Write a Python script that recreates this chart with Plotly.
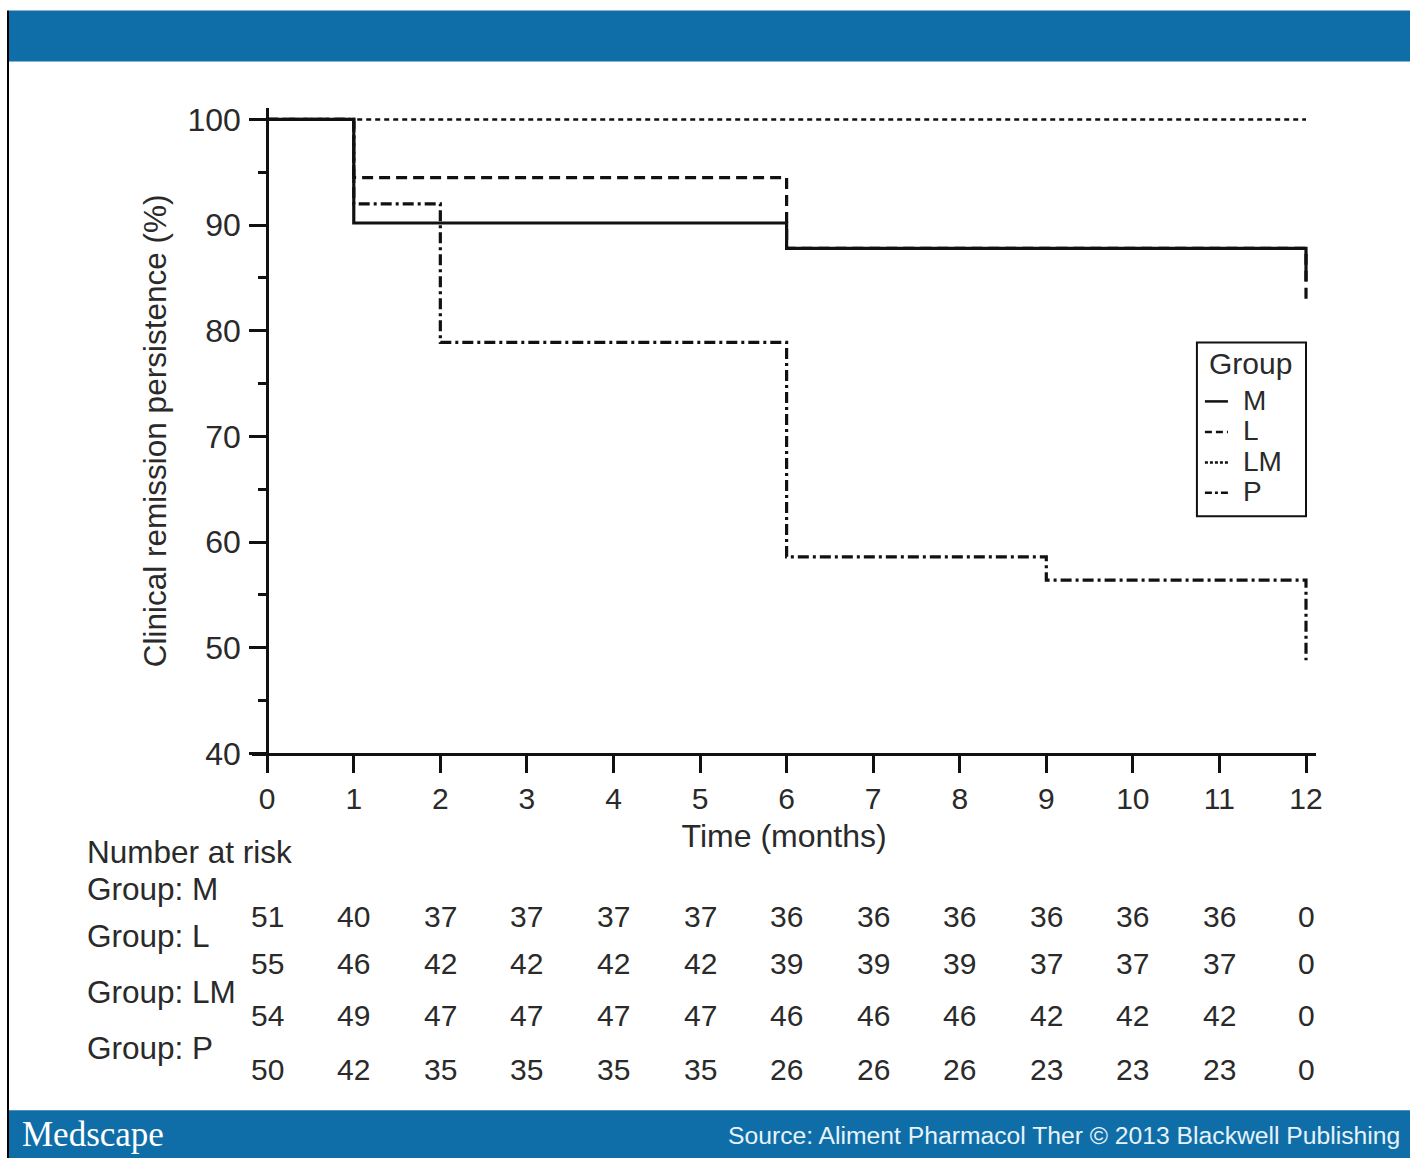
import plotly.graph_objects as go

# Target picture is 1410x1158. The capture shrinks the page slightly
# (x * 0.9943, y * 0.979 + 6.5), so the figure is laid out in target-pixel
# terms and converted.
SX, SY, BY = 0.9943, 0.979, 6.5
W = 1418
H = 1176

# ---------------- data ----------------
groups = ["M", "L", "LM", "P"]
M_time = [0, 1, 6, 12]
M_surv = [100, 90.2, 87.8, 84.7]
L_time = [0, 1, 6, 12]
L_surv = [100, 94.5, 87.8, 83.0]
LM_time = [0, 12]
LM_surv = [100, 100]
P_time = [0, 1, 2, 6, 9, 12]
P_surv = [100, 92.0, 78.9, 58.6, 56.4, 48.8]

months = list(range(0, 13))
y_ticks = [40, 50, 60, 70, 80, 90, 100]

risk_M = [51, 40, 37, 37, 37, 37, 36, 36, 36, 36, 36, 36, 0]
risk_L = [55, 46, 42, 42, 42, 42, 39, 39, 39, 37, 37, 37, 0]
risk_LM = [54, 49, 47, 47, 47, 47, 46, 46, 46, 42, 42, 42, 0]
risk_P = [50, 42, 35, 35, 35, 35, 26, 26, 26, 23, 23, 23, 0]

# ---------------- styling ----------------
FONT = "Liberation Sans, Arial, sans-serif"
TXT = "#2a2a2a"
BLUE = "#0f6ea8"
LW = 3.2
dash_styles = {
    "M": "solid",
    "L": "11px,6px",
    "LM": "5px,4px",
    "P": "11px,4px,3px,4px",
}


def px(x):
    """target-picture x pixel -> paper fraction"""
    return (x / SX) / W


def py(y):
    """target-picture y pixel -> paper fraction"""
    return 1 - ((y - BY) / SY) / H


fig = go.Figure()

series = [("M", M_time, M_surv), ("L", L_time, L_surv),
          ("LM", LM_time, LM_surv), ("P", P_time, P_surv)]
order = ["LM", "P", "L", "M"]
sd = {g: (t, s) for g, t, s in series}
for g in order:
    t, s = sd[g]
    fig.add_trace(go.Scatter(
        x=t, y=s, mode="lines", name=g, showlegend=False,
        line=dict(shape="hv", color="#111111", width=LW if g != "LM" else 2.6,
                  dash=dash_styles[g]),
        hoverinfo="skip",
    ))

shapes = []
annotations = []

# header / footer bands
shapes.append(dict(type="rect", xref="paper", yref="paper",
                   x0=px(9), x1=1, y0=py(61), y1=py(10),
                   fillcolor=BLUE, line=dict(width=0), layer="below"))
shapes.append(dict(type="rect", xref="paper", yref="paper",
                   x0=px(9), x1=1, y0=0, y1=py(1110),
                   fillcolor=BLUE, line=dict(width=0), layer="below"))
shapes.append(dict(type="line", xref="paper", yref="paper",
                   x0=px(8), x1=px(8), y0=0, y1=py(10),
                   line=dict(color="#000000", width=2)))

annotations.append(dict(text="Medscape", xref="paper", yref="paper",
                        x=px(20), y=py(1134), xanchor="left", yanchor="middle",
                        showarrow=False,
                        font=dict(family="Liberation Serif, Times New Roman, serif",
                                  size=35, color="#ffffff")))
annotations.append(dict(text="Source: Aliment Pharmacol Ther © 2013 Blackwell Publishing",
                        xref="paper", yref="paper", x=px(1401), y=py(1135),
                        xanchor="right", yanchor="middle", showarrow=False,
                        font=dict(family=FONT, size=24.7, color="#e6f3fa")))

# legend (manual, to match compact layout)
shapes.append(dict(type="rect", xref="paper", yref="paper",
                   x0=px(1196), x1=px(1305), y0=py(516), y1=py(342),
                   line=dict(color="#111111", width=2), fillcolor="white"))
annotations.append(dict(text="Group", xref="paper", yref="paper",
                        x=px(1206), y=py(363), xanchor="left", yanchor="middle",
                        showarrow=False, font=dict(family=FONT, size=30, color=TXT)))
leg_y = [400, 430.5, 461, 491.5]
for g, yy in zip(groups, leg_y):
    shapes.append(dict(type="line", xref="paper", yref="paper",
                       x0=px(1204), x1=px(1227), y0=py(yy + 1), y1=py(yy + 1),
                       line=dict(color="#111111", width=2.5,
                                 dash={"M": "solid", "L": "7px,4px",
                                       "LM": "3px,2px", "P": "7px,3px,3px,3px"}[g])))
    annotations.append(dict(text=g, xref="paper", yref="paper",
                            x=px(1240), y=py(yy), xanchor="left", yanchor="middle",
                            showarrow=False, font=dict(family=FONT, size=28, color=TXT)))

# number at risk table
annotations.append(dict(text="Number at risk", xref="paper", yref="paper",
                        x=px(85), y=py(852), xanchor="left", yanchor="middle",
                        showarrow=False, font=dict(family=FONT, size=31.5, color=TXT)))
label_y = [889, 936, 992, 1048]
row_y = [916, 963, 1015, 1069]
risks = [risk_M, risk_L, risk_LM, risk_P]
for g, ly, ry, r in zip(groups, label_y, row_y, risks):
    annotations.append(dict(text="Group: " + g, xref="paper", yref="paper",
                            x=px(85), y=py(ly), xanchor="left", yanchor="middle",
                            showarrow=False, font=dict(family=FONT, size=31.5, color=TXT)))
    for m, v in zip(months, r):
        annotations.append(dict(text=str(v), xref="x", yref="paper",
                                x=m, y=py(ry), xanchor="center", yanchor="middle",
                                showarrow=False,
                                font=dict(family=FONT, size=30, color=TXT)))

fig.update_layout(
    width=W, height=H, autosize=False,
    margin=dict(l=0, r=0, t=0, b=0),
    paper_bgcolor="white", plot_bgcolor="white",
    font=dict(family=FONT, color=TXT),
    showlegend=False,
    shapes=shapes,
    annotations=annotations,
    xaxis=dict(
        domain=[px(252), px(1315)],
        range=[-15 / 86.5, 12 + 10 / 86.5],
        tickmode="array", tickvals=months, ticktext=[str(m) for m in months],
        ticks="outside", ticklen=17, tickwidth=3, tickcolor="#111111",
        showline=True, linewidth=3, linecolor="#111111",
        showgrid=False, zeroline=False,
        tickfont=dict(family=FONT, size=30, color=TXT),
        title=dict(text="Time (months)", font=dict(family=FONT, size=32, color=TXT),
                   standoff=11),
        fixedrange=True,
    ),
    yaxis=dict(
        domain=[py(753), py(108)],
        range=[40, 40 + (753 - 108) / 10.567],
        anchor="free", position=px(267),
        tickmode="array", tickvals=y_ticks, ticktext=[str(v) for v in y_ticks],
        ticks="outside", ticklen=17, tickwidth=3, tickcolor="#111111",
        minor=dict(dtick=5, tick0=0, ticks="outside", ticklen=8, tickwidth=3,
                   tickcolor="#111111", showgrid=False),
        showline=True, linewidth=3, linecolor="#111111",
        showgrid=False, zeroline=False,
        tickfont=dict(family=FONT, size=32, color=TXT),
        ticklabelstandoff=2,
        title=dict(text="Clinical remission persistence (%)",
                   font=dict(family=FONT, size=31.5, color=TXT), standoff=10),
        fixedrange=True,
    ),
)

fig.write_html(
    "out.html",
    config={"displayModeBar": False},
    post_script=(
        "document.documentElement.style.margin='0';"
        "document.documentElement.style.padding='0';"
        "document.documentElement.style.overflow='hidden';"
        "document.body.style.margin='0';"
        "document.body.style.padding='0';"
        "document.body.style.overflow='hidden';"
        "document.body.style.fontSize='0';"
        "document.body.style.lineHeight='0';"
    ),
)
